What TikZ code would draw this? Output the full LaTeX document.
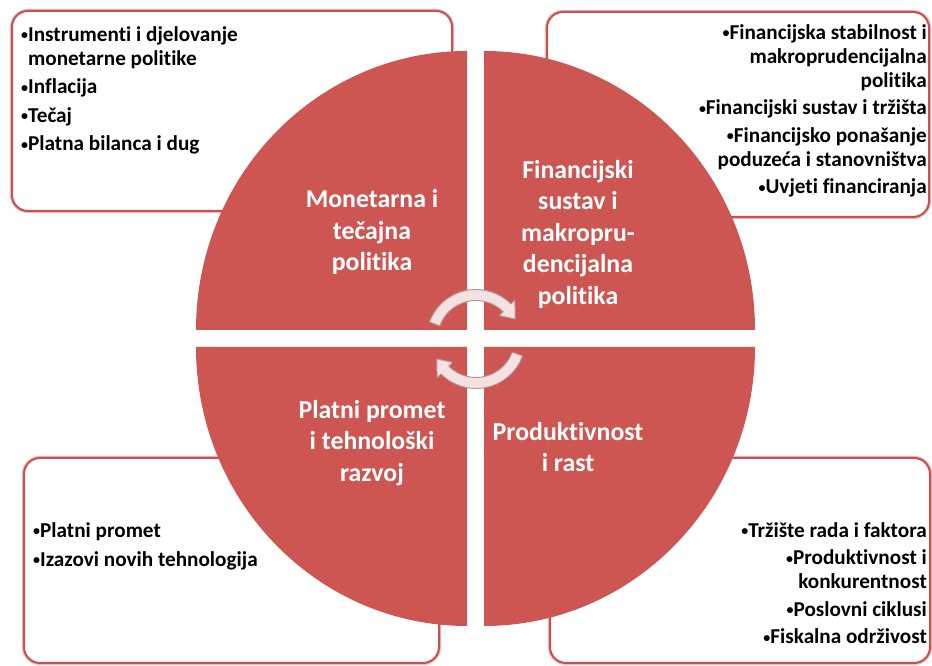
\documentclass[tikz,border=0pt]{standalone}
\usepackage{graphicx}
\usepackage{fontspec}
\setmainfont[Ligatures=NoCommon]{Carlito}
\definecolor{qred}{RGB}{205,85,82}
\definecolor{boxred}{RGB}{200,80,80}
\definecolor{boxhalo}{RGB}{238,185,185}
\definecolor{arrfill}{RGB}{244,226,226}
\definecolor{arrdraw}{RGB}{185,150,150}
\newcommand{\bul}{\raisebox{0.12ex}{\scalebox{0.66}{•}}}
\newcommand{\bulsp}{\phantom{\bul}}
\begin{document}
\begin{tikzpicture}[x=1pt,y=1pt,
  quad/.style={fill=qred, draw=none},
  infobox/.style={draw=boxred, line width=2pt, rounded corners=16pt, fill=white,
     preaction={draw=boxhalo, line width=4.2pt, rounded corners=16pt}},
  qlabel/.style={text=white, font=\bfseries\fontsize{25.8}{31.5}\selectfont, align=center, inner sep=0pt},
  itemtext/.style={text=black, font=\bfseries\fontsize{21.2}{24}\selectfont, inner sep=0pt},
  cyc/.style={fill=arrfill, draw=arrdraw, line width=1pt, line join=round}]
\useasboundingbox (0,0) rectangle (932,666);
\fill[white] (0,0) rectangle (932,666);
% info boxes
\draw[infobox] (12,455) rectangle (452,655);
\draw[infobox] (547,449) rectangle (929,654);
\draw[infobox] (24,3) rectangle (439,208);
\draw[infobox] (550,3) rectangle (930,208);
% quadrants
\fill[quad] (467,336) -- (196,336) arc[start angle=180,end angle=90,x radius=271,y radius=279] -- cycle;
\fill[quad] (484,336) -- (484,615) arc[start angle=90,end angle=0,x radius=271,y radius=279] -- cycle;
\fill[quad] (467,319) -- (467,40) arc[start angle=270,end angle=180,x radius=271,y radius=279] -- cycle;
\fill[quad] (484,319) -- (755,319) arc[start angle=0,end angle=-90,x radius=271,y radius=279] -- cycle;
% cycle arrows
\begin{scope}[shift={(476,327)}]
\filldraw[cyc] (160:49.5) arc[start angle=160,end angle=45,radius=49.5] -- (45:55) -- (27:44) -- (45:33) -- (45:38.5) arc[start angle=45,end angle=160,radius=38.5] -- cycle;
\filldraw[cyc] (340:49.5) arc[start angle=340,end angle=225,radius=49.5] -- (225:55) -- (207:44) -- (225:33) -- (225:38.5) arc[start angle=225,end angle=340,radius=38.5] -- cycle;
\end{scope}
% quadrant labels
\node[qlabel] (mon) at (372,434) {Monetarna i\\tečajna\\politika};
\node[qlabel] (fin) at (578,432) {Financijski\\sustav i\\makropru-\\dencijalna\\politika};
\node[qlabel] (pla) at (372,223) {Platni promet\\i tehnološki\\razvoj};
\node[qlabel] (pro) at (568,219) {Produktivnost\\i rast};
% box texts
\node[itemtext, anchor=north west, align=left] (tltext) at (21,640)
  {\bul Instrumenti i djelovanje\\\bulsp monetarne politike\\[4.5pt]\bul Inflacija\\[4.5pt]\bul Tečaj\\[4.5pt]\bul Platna bilanca i dug};
\node[itemtext, anchor=north east, align=right] (trtext) at (927,642)
  {\bul Financijska stabilnost i\\makroprudencijalna\\politika\\[3.5pt]\bul Financijski sustav i tržišta\\[3.5pt]\bul Financijsko ponašanje\\poduzeća i stanovništva\\[3.5pt]\bul Uvjeti financiranja};
\node[itemtext, anchor=north west, align=left] (bltext) at (33,144)
  {\bul Platni promet\\[5pt]\bul Izazovi novih tehnologija};
\node[itemtext, anchor=north east, align=right] (brtext) at (927,144)
  {\bul Tržište rada i faktora\\[3.5pt]\bul Produktivnost i\\konkurentnost\\[3.5pt]\bul Poslovni ciklusi\\[3.5pt]\bul Fiskalna održivost};
\end{tikzpicture}
\end{document}
